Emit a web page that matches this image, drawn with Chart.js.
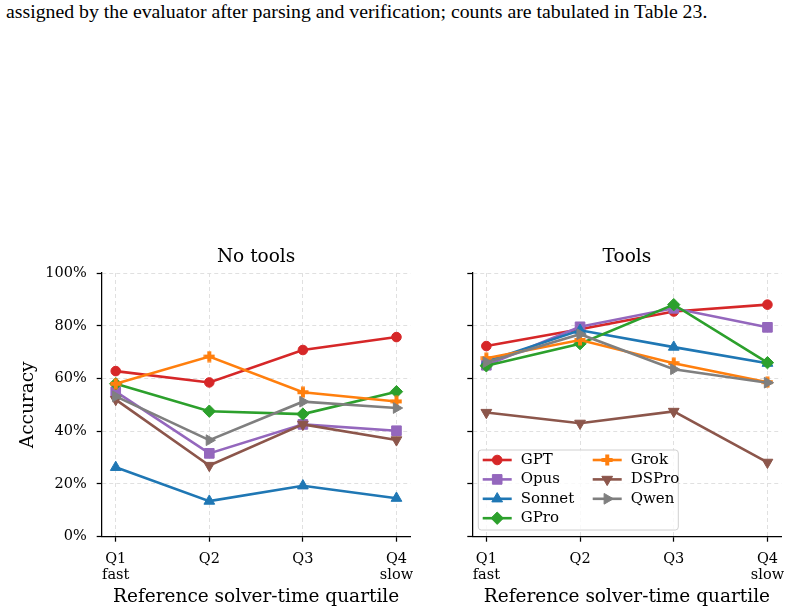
<!DOCTYPE html>
<html>
<head>
<meta charset="utf-8">
<script src="https://cdn.jsdelivr.net/npm/chart.js@4.4.0/dist/chart.umd.min.js"></script>
<style>
  html, body { margin: 0; padding: 0; background: #fff; }
  body { width: 791px; height: 613px; position: relative; overflow: hidden; }
  #caption {
    position: absolute; left: 6px; top: 1.7px;
    font-family: "Liberation Serif", "Times New Roman", serif;
    font-size: 19.8px; line-height: 1; color: #000; white-space: nowrap;
  }
  .panel { position: absolute; top: 230px; }
  #left { left: 0; }
  #right { left: 420px; }
</style>
</head>
<body>
<div id="caption">assigned by the evaluator after parsing and verification; counts are tabulated in Table 23.</div>
<div class="panel" id="left"><canvas id="noTools" width="420" height="383"></canvas></div>
<div class="panel" id="right"><canvas id="tools" width="371" height="383"></canvas></div>
<script>
// x categories and tick labels
const quartiles = ['Q1', 'Q2', 'Q3', 'Q4'];
const speedNotes = ['fast', '', '', 'slow'];
const yTicks = [0, 20, 40, 60, 80, 100];
const models = ['GPT', 'Opus', 'Sonnet', 'GPro', 'Grok', 'DSPro', 'Qwen'];

// accuracy (%) per quartile, no tools
const noToolsGPT    = [62.8, 58.5, 70.8, 75.7];
const noToolsOpus   = [55.0, 31.6, 42.6, 40.2];
const noToolsSonnet = [26.3, 13.5, 19.3, 14.6];
const noToolsGPro   = [58.0, 47.6, 46.5, 55.0];
const noToolsGrok   = [58.0, 68.3, 54.8, 51.3];
const noToolsDSPro  = [52.0, 27.0, 42.6, 36.7];
const noToolsQwen   = [53.2, 36.6, 51.2, 48.8];

// accuracy (%) per quartile, with tools
const toolsGPT    = [72.3, 78.7, 85.4, 88.0];
const toolsOpus   = [65.0, 79.6, 86.6, 79.4];
const toolsSonnet = [66.4, 78.3, 71.9, 65.8];
const toolsGPro   = [64.8, 73.2, 88.0, 66.0];
const toolsGrok   = [67.7, 74.6, 65.8, 58.6];
const toolsDSPro  = [47.1, 43.0, 47.5, 28.2];
const toolsQwen   = [66.2, 76.8, 63.5, 58.4];

const noToolsSeries = [noToolsGPT, noToolsOpus, noToolsSonnet, noToolsGPro, noToolsGrok, noToolsDSPro, noToolsQwen];
const toolsSeries = [toolsGPT, toolsOpus, toolsSonnet, toolsGPro, toolsGrok, toolsDSPro, toolsQwen];

// styles
const colors = ['#d62728', '#9467bd', '#1f77b4', '#2ca02c', '#ff7f0e', '#8c564b', '#7f7f7f'];

// matplotlib-like filled plus ("P") marker for Grok
function plusMarker(color) {
  const c = document.createElement('canvas');
  c.width = 12; c.height = 12;
  const g = c.getContext('2d');
  g.fillStyle = color;
  g.fillRect(4, 0.5, 4, 11);
  g.fillRect(0.5, 4, 11, 4);
  return c;
}
const markers = ['circle', 'rect', 'triangle', 'rectRot', plusMarker(colors[4]), 'triangle', 'triangle'];
const rotations = [0, 0, 0, 0, 0, 180, 90];
const radii = [4.8, 6.8, 6.2, 6.2, 6, 6.2, 6.2];

Chart.defaults.font.family = '"DejaVu Serif", serif';
Chart.defaults.color = '#000';

const panelTitle = {
  id: 'panelTitle',
  afterDraw(chart, args, opts) {
    const a = chart.chartArea, ctx = chart.ctx;
    ctx.save();
    ctx.font = '18.5px "DejaVu Serif"';
    ctx.fillStyle = '#000';
    ctx.textAlign = 'center';
    ctx.textBaseline = 'alphabetic';
    ctx.fillText(opts.text, (a.left + a.right) / 2, a.top - 11);
    ctx.restore();
  }
};

const insetLegend = {
  id: 'insetLegend',
  afterDatasetsDraw(chart, args, opts) {
    if (!opts.show) return;
    const ctx = chart.ctx, a = chart.chartArea;
    const w = 200, h = 80;
    const x0 = a.left + 6, y0 = a.bottom - 6.7 - h;
    ctx.save();
    ctx.beginPath();
    ctx.roundRect(x0, y0, w, h, 3);
    ctx.fillStyle = 'rgba(255,255,255,0.8)';
    ctx.fill();
    ctx.strokeStyle = '#d0d0d0';
    ctx.lineWidth = 1;
    ctx.stroke();
    ctx.font = '15px "DejaVu Serif"';
    ctx.textBaseline = 'middle';
    chart.data.datasets.forEach((ds, i) => {
      const col = i < 4 ? 0 : 1;
      const row = i < 4 ? i : i - 4;
      const lx = x0 + 4.4 + col * 110;
      const ly = y0 + 10 + row * 19.4;
      ctx.strokeStyle = ds.borderColor;
      ctx.lineWidth = ds.borderWidth;
      ctx.beginPath();
      ctx.moveTo(lx, ly);
      ctx.lineTo(lx + 29, ly);
      ctx.stroke();
      ctx.fillStyle = ds.pointBackgroundColor;
      ctx.strokeStyle = ds.pointBorderColor;
      ctx.lineWidth = 1;
      Chart.helpers.drawPoint(ctx, {
        pointStyle: ds.pointStyle, rotation: ds.pointRotation,
        radius: ds.pointRadius, borderWidth: 1
      }, lx + 14.5, ly);
      ctx.fillStyle = '#000';
      ctx.fillText(ds.label, lx + 38, ly);
    });
    ctx.restore();
  }
};

function makeChart(id, title, series, isLeft) {
  const datasets = models.map((m, i) => ({
    label: m,
    data: series[i].map((v, j) => ({ x: j, y: v })),
    borderColor: colors[i],
    backgroundColor: colors[i],
    pointBackgroundColor: colors[i],
    pointBorderColor: colors[i],
    pointStyle: markers[i],
    pointRotation: rotations[i],
    pointRadius: radii[i],
    pointHoverRadius: radii[i],
    pointBorderWidth: 1,
    borderWidth: 2.6,
    tension: 0,
    order: -i
  }));

  const axisFont = { family: '"DejaVu Serif"', size: 14.5, lineHeight: 1.1 };
  const titleFont = { family: '"DejaVu Serif"', size: 18.5 };

  return new Chart(document.getElementById(id), {
    type: 'line',
    data: { datasets: datasets },
    plugins: [panelTitle, insetLegend],
    options: {
      responsive: false,
      animation: false,
      events: [],
      layout: { padding: { top: 43, right: 9.5, left: 0, bottom: 0 } },
      scales: {
        x: {
          type: 'linear',
          min: -0.15,
          max: 3.15,
          afterBuildTicks: s => { s.ticks = quartiles.map((_, i) => ({ value: i })); },
          afterFit: s => {
            s.height = 76.3;
            // tick labels fit inside the margins, keep the axis full width
            s.paddingLeft = 0;
            s.paddingRight = 0;
          },
          ticks: {
            callback: v => speedNotes[v] ? [quartiles[v], speedNotes[v]] : quartiles[v],
            font: axisFont,
            padding: 10,
            maxRotation: 0,
            autoSkip: false
          },
          grid: {
            color: '#e0e0e0',
            lineWidth: 1,
            tickColor: '#000',
            tickLength: 5,
            tickWidth: 1.25
          },
          border: { display: true, color: '#000', width: 1.25, dash: [4, 3] },
          title: {
            display: true,
            text: 'Reference solver-time quartile',
            font: titleFont,
            padding: { top: 0, bottom: 5 }
          }
        },
        y: {
          min: 0,
          max: 100,
          afterBuildTicks: s => { s.ticks = yTicks.map(v => ({ value: v })); },
          afterFit: s => {
            s.width = isLeft ? 101.7 : 52.3;
            s.paddingTop = 0;
            s.paddingBottom = 0;
          },
          ticks: {
            callback: v => isLeft ? v + '%' : '',
            font: axisFont,
            padding: 10
          },
          grid: {
            color: '#e0e0e0',
            lineWidth: 1,
            tickColor: '#000',
            tickLength: 5,
            tickWidth: 1.25
          },
          border: { display: true, color: '#000', width: 1.25, dash: [4, 3] },
          title: {
            display: isLeft,
            text: 'Accuracy',
            font: titleFont,
            padding: { top: 17.5, bottom: 0 }
          }
        }
      },
      plugins: {
        legend: { display: false },
        tooltip: { enabled: false },
        panelTitle: { text: title },
        insetLegend: { show: !isLeft }
      }
    }
  });
}

makeChart('noTools', 'No tools', noToolsSeries, true);
makeChart('tools', 'Tools', toolsSeries, false);
</script>
</body>
</html>
